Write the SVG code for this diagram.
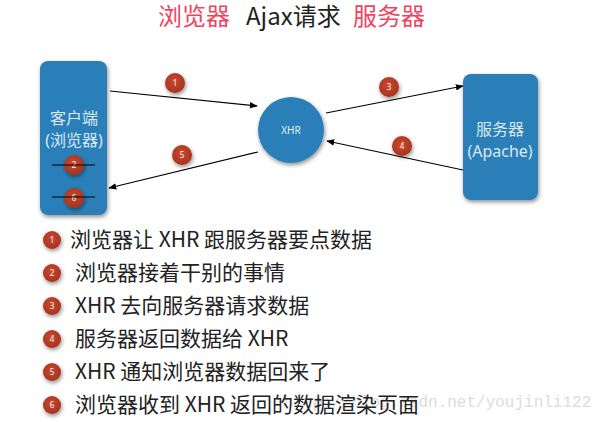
<svg xmlns="http://www.w3.org/2000/svg" width="603" height="422" viewBox="0 0 603 422">
<defs>
<filter id="sh" x="-30%" y="-30%" width="160%" height="160%">
<feGaussianBlur in="SourceAlpha" stdDeviation="2"/>
<feOffset dx="1" dy="2" result="b"/>
<feComponentTransfer><feFuncA type="linear" slope="0.45"/></feComponentTransfer>
<feMerge><feMergeNode/><feMergeNode in="SourceGraphic"/></feMerge>
</filter>
<radialGradient id="bg" cx="0.45" cy="0.4" r="0.6">
<stop offset="0" stop-color="#c8482f"/>
<stop offset="1" stop-color="#a8331f"/>
</radialGradient>
<marker id="ah" viewBox="0 0 10 10" refX="9" refY="5" markerWidth="8" markerHeight="8" markerUnits="userSpaceOnUse" orient="auto">
<path d="M0,1 L10,5 L0,9 Z" fill="#000"/>
</marker>
</defs>
<style>
.node{fill:#2c7fb8;filter:url(#sh)}
.ntxt{font-family:"Noto Sans","Noto Sans CJK SC",sans-serif;font-size:16px;fill:#dbe8f2;text-anchor:middle}
.badge{fill:url(#bg);filter:url(#sh)}
.btxt{font-family:"Noto Sans",sans-serif;font-size:8px;fill:#fff;text-anchor:middle}
.conn{stroke:#000;stroke-width:1.2;fill:none;marker-end:url(#ah)}
.item{font-family:"Noto Sans CJK SC","Noto Sans",sans-serif;font-size:21px;fill:#222}
.title{font-family:"Noto Sans CJK SC","Noto Sans",sans-serif;font-size:24px}
</style>
<rect width="603" height="422" fill="#fff"/>
<text x="284" y="407" font-family="Liberation Mono,monospace" font-size="16" fill="#dcdcdc">http://blog.csdn.net/youjinli122</text>

<g id="title">
<text x="158" y="25" class="title" fill="#f2435d">浏览器</text>
<text x="246" y="25" class="title" fill="#222">Ajax请求</text>
<text x="353" y="25" class="title" fill="#f2435d">服务器</text>
</g>

<g id="connectors">
<line class="conn" x1="110" y1="91" x2="257" y2="106"/>
<line class="conn" x1="326" y1="113" x2="463" y2="86"/>
<line class="conn" x1="463" y1="170" x2="327" y2="141"/>
<line class="conn" x1="258" y1="152" x2="109" y2="188"/>
</g>

<g id="client">
<rect class="node" x="40" y="61" width="67" height="154" rx="8"/>
<text class="ntxt" x="74" y="124">客户端</text>
<text class="ntxt" x="74" y="146">(浏览器)</text>
<circle class="badge" cx="74" cy="165" r="10"/>
<text class="btxt" x="74" y="168">2</text>
<line x1="52" y1="165" x2="95" y2="165" stroke="#000" stroke-width="1.2"/>
<circle class="badge" cx="74" cy="198" r="10"/>
<text class="btxt" x="74" y="201">6</text>
<line x1="52" y1="197" x2="95" y2="197" stroke="#000" stroke-width="1.2"/>
</g>

<g id="xhr">
<circle class="node" cx="291" cy="130" r="33"/>
<text x="291" y="134" font-family="Noto Sans,sans-serif" font-size="10" fill="#e6f0f7" text-anchor="middle">XHR</text>
</g>

<g id="server">
<rect class="node" x="463" y="74" width="75" height="126" rx="8"/>
<text class="ntxt" x="500" y="135">服务器</text>
<text class="ntxt" x="500" y="157">(Apache)</text>
</g>

<g id="step-badges">
<circle class="badge" cx="175" cy="83" r="10"/><text class="btxt" x="175" y="86">1</text>
<circle class="badge" cx="389" cy="87" r="10"/><text class="btxt" x="389" y="90">3</text>
<circle class="badge" cx="402" cy="146" r="10"/><text class="btxt" x="402" y="149">4</text>
<circle class="badge" cx="182" cy="155" r="10"/><text class="btxt" x="182" y="158">5</text>
</g>

<g id="legend">
<circle class="badge" cx="52" cy="240" r="9"/><text class="btxt" x="52" y="243">1</text>
<text class="item" x="70" y="247">浏览器让 XHR 跟服务器要点数据</text>
<circle class="badge" cx="52" cy="273" r="9"/><text class="btxt" x="52" y="276">2</text>
<text class="item" x="75" y="280">浏览器接着干别的事情</text>
<circle class="badge" cx="52" cy="306" r="9"/><text class="btxt" x="52" y="309">3</text>
<text class="item" x="75" y="313">XHR 去向服务器请求数据</text>
<circle class="badge" cx="52" cy="339" r="9"/><text class="btxt" x="52" y="342">4</text>
<text class="item" x="75" y="346">服务器返回数据给 XHR</text>
<circle class="badge" cx="52" cy="372" r="9"/><text class="btxt" x="52" y="375">5</text>
<text class="item" x="75" y="379">XHR 通知浏览器数据回来了</text>
<circle class="badge" cx="52" cy="405" r="9"/><text class="btxt" x="52" y="408">6</text>
<text class="item" x="75" y="412">浏览器收到 XHR 返回的数据渲染页面</text>
</g>
</svg>
